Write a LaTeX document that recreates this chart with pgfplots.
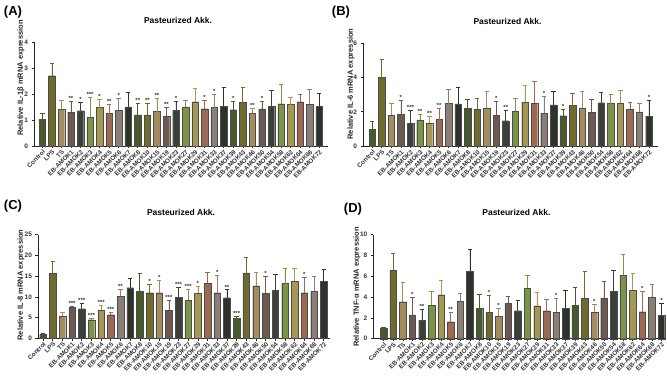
\documentclass[border=0pt]{standalone}
\usepackage{pgfplots}
\pgfplotsset{compat=1.18}
\usepackage{pgfplotstable}
\usepackage{fontspec}
\setmainfont{Liberation Sans}

\definecolor{c0}{HTML}{48592B}
\definecolor{c1}{HTML}{6E6B2C}
\definecolor{c2}{HTML}{A48C5E}
\definecolor{c3}{HTML}{6E5950}
\definecolor{c4}{HTML}{3C403B}
\definecolor{c5}{HTML}{7B9448}
\definecolor{c6}{HTML}{A69752}
\definecolor{c7}{HTML}{9C6A52}
\definecolor{c8}{HTML}{8B7E74}
\definecolor{c9}{HTML}{2F312D}

% x = position, y = mean, e = error (upper), s = number of stars
\pgfplotstableread{
x y e s
0 1.02 0.25 0
1 2.71 0.47 0
2 1.42 0.33 0
3 1.31 0.43 2
4 1.36 0.34 1
5 1.10 0.78 3
6 1.48 0.32 1
7 1.25 0.35 2
8 1.38 0.46 1
9 1.51 0.56 0
10 1.20 0.45 2
11 1.20 0.45 2
12 1.33 0.51 2
13 1.15 0.34 2
14 1.38 0.34 1
15 1.50 0.28 0
16 1.71 0.52 0
17 1.44 0.34 1
18 1.48 0.52 1
19 1.54 0.73 0
20 1.40 0.32 1
21 1.69 0.56 0
22 1.27 0.19 2
23 1.43 0.31 1
24 1.54 0.60 0
25 1.63 0.73 0
26 1.60 0.27 0
27 1.71 0.30 0
28 1.62 0.55 0
29 1.53 0.51 0
}\dataA

\pgfplotstableread{
x y e s
0 0.99 0.43 0
1 4.00 1.09 0
2 1.81 0.69 0
3 1.85 0.80 1
4 1.31 0.76 3
5 1.52 0.35 2
6 1.35 0.38 2
7 1.54 0.68 2
8 2.48 0.85 0
9 2.46 0.99 0
10 2.22 0.49 0
11 2.14 0.63 0
12 2.20 1.00 0
13 1.81 0.82 1
14 1.48 0.59 2
15 2.03 0.74 0
16 2.57 0.96 0
17 2.50 1.26 0
18 1.91 0.97 1
19 2.40 0.78 0
20 1.77 0.39 1
21 2.36 0.72 0
22 2.20 1.02 0
23 1.97 0.76 0
24 2.53 0.61 0
25 2.48 0.54 0
26 2.51 0.76 0
27 2.14 0.41 0
28 2.00 0.51 0
29 1.75 0.90 1
}\dataB

\pgfplotstableread{
x y e s
0 0.90 0.20 0
1 15.80 2.70 0
2 5.40 0.95 0
3 7.40 0.40 3
4 7.15 1.25 3
5 4.50 0.30 3
6 6.80 1.20 3
7 5.70 0.50 3
8 10.10 1.80 2
9 12.20 2.30 0
10 11.40 4.20 0
11 11.00 2.00 1
12 11.00 3.10 1
13 6.80 2.30 3
14 9.90 2.40 3
15 9.20 2.70 3
16 10.85 1.65 1
17 13.30 2.60 0
18 11.00 4.10 1
19 9.80 1.90 2
20 4.75 0.45 3
21 15.80 3.70 0
22 12.70 3.20 0
23 10.85 4.15 1
24 11.50 4.00 0
25 13.20 3.80 0
26 13.75 3.05 0
27 11.00 3.70 1
28 11.30 3.70 0
29 13.75 2.95 0
}\dataC

\pgfplotstableread{
x y e s
0 1.00 0.07 0
1 6.60 1.57 0
2 3.56 1.86 0
3 2.28 1.66 1
4 1.79 1.03 2
5 3.24 1.28 0
6 4.23 1.35 0
7 1.63 0.90 2
8 3.62 0.71 0
9 6.47 2.09 0
10 2.95 1.31 0
11 2.53 1.67 1
12 2.18 0.74 1
13 3.43 0.67 0
14 2.69 1.03 0
15 4.87 1.19 0
16 3.17 1.25 0
17 2.69 1.06 0
18 2.56 1.29 1
19 2.95 1.67 0
20 3.20 1.77 0
21 3.91 2.56 0
22 2.56 0.74 1
23 3.91 1.57 0
24 4.55 1.99 0
25 6.09 1.99 0
26 4.65 1.66 0
27 2.60 1.95 1
28 3.97 1.29 0
29 2.24 1.13 1
}\dataD

\pgfplotsset{
  panel/.style={
    scale only axis,
    anchor=south west,
    axis x line*=bottom, axis y line*=left,
    axis line style={line width=0.8pt, black!85},
    tick align=outside,
    major tick length=2.5pt,
    tick style={line width=0.6pt, black!85},
    xtick={0,...,29},
    xticklabels={Control,LPS,TS,EB-AMOK1,EB-AMOK2,EB-AMOK3,EB-AMOK4,EB-AMOK5,EB-AMOK6,EB-AMOK7,EB-AMOK8,EB-AMOK10,EB-AMOK15,EB-AMOK19,EB-AMOK23,EB-AMOK27,EB-AMOK29,EB-AMOK31,EB-AMOK33,EB-AMOK37,EB-AMOK39,EB-AMOK43,EB-AMOK46,EB-AMOK50,EB-AMOK54,EB-AMOK58,EB-AMOK62,EB-AMOK64,EB-AMOK68,EB-AMOK72},
    xticklabel style={rotate=45, anchor=north east, font=\fontsize{6.3}{6.3}\selectfont\bfseries, inner sep=0.5pt, text=black!80},
    yticklabel style={font=\fontsize{6.5}{6.5}\selectfont\bfseries, text=black!80},
    /pgf/number format/assume math mode=true,
    ymin=0,
    title={Pasteurized Akk.},
    title style={font=\fontsize{8.5}{8.5}\selectfont\bfseries, at={(0.49,1)}, anchor=center, yshift=16pt},
    clip=false,
  },
}

\newcommand{\bars}[1]{%
  \pgfplotsinvokeforeach{0,...,9}{%
    \addplot[ybar, bar shift=0pt, bar width=0.68, fill=c##1, draw=black!70, line width=0.3pt,
      restrict expr to domain={mod(\thisrow{x},10)}{##1:##1},
      error bars/.cd, y dir=plus, y explicit,
      error bar style={c##1, line width=0.7pt},
      error mark options={rotate=90, mark size=2.2pt, c##1, line width=0.7pt}]
      table[x=x, y=y, y error=e] {#1};
  }%
}
\newcommand{\stars}[3]{%
  \addplot[draw=none, restrict expr to domain={\thisrow{s}}{#2:#2},
    nodes near coords={#3},
    nodes near coords style={font=\fontsize{6}{6}\selectfont\bfseries, text=black!80, anchor=south, inner sep=0.6pt}]
    table[x=x, y expr=\thisrow{y}+\thisrow{e}] {#1};
}

\begin{document}
\begin{tikzpicture}
\useasboundingbox (0,0) rectangle (667pt,378pt);

% (A)
\begin{axis}[panel, at={(34pt,232pt)}, width=294pt, height=103.7pt,
  xmin=-0.87, xmax=29.92, ymax=4, ytick={0,1,2,3,4}]
  \bars{\dataA}
  \stars{\dataA}{1}{*}
  \stars{\dataA}{2}{**}
  \stars{\dataA}{3}{***}
\end{axis}

% (B)
\begin{axis}[panel, at={(363pt,232pt)}, width=295pt, height=102.7pt,
  xmin=-0.97, xmax=29.95, ymax=6, ytick={0,2,4,6}]
  \bars{\dataB}
  \stars{\dataB}{1}{*}
  \stars{\dataB}{2}{**}
  \stars{\dataB}{3}{***}
\end{axis}

% (C)
\begin{axis}[panel, at={(38pt,39.7pt)}, width=292pt, height=103.6pt,
  xmin=-0.52, xmax=29.65, ymax=25, ytick={0,5,10,15,20,25}]
  \bars{\dataC}
  \stars{\dataC}{1}{*}
  \stars{\dataC}{2}{**}
  \stars{\dataC}{3}{***}
\end{axis}

% (D)
\begin{axis}[panel, at={(373.3pt,39.3pt)}, width=292pt, height=104pt,
  xmin=-1.08, xmax=29.4, ymax=10, ytick={0,2,4,6,8,10}]
  \bars{\dataD}
  \stars{\dataD}{1}{*}
  \stars{\dataD}{2}{**}
\end{axis}

\node[rotate=90, font=\fontsize{7.5}{7.5}\selectfont\bfseries, text=black!85] at (21pt,300pt) {Relative IL-1β mRNA expression};
\node[rotate=90, font=\fontsize{7.5}{7.5}\selectfont\bfseries, text=black!85] at (351pt,294pt) {Relative IL-6 mRNA expression};
\node[rotate=90, font=\fontsize{7.5}{7.5}\selectfont\bfseries, text=black!85] at (21pt,93pt) {Relative IL-8 mRNA expression};
\node[rotate=90, font=\fontsize{7.5}{7.5}\selectfont\bfseries, text=black!85] at (357pt,91pt) {Relative TNF-α mRNA expression};

\node[font=\fontsize{13}{13}\selectfont\bfseries] at (13pt,365.5pt) {(A)};
\node[font=\fontsize{13}{13}\selectfont\bfseries] at (341pt,366pt) {(B)};
\node[font=\fontsize{13}{13}\selectfont\bfseries] at (13pt,172pt) {(C)};
\node[font=\fontsize{13}{13}\selectfont\bfseries] at (353pt,169pt) {(D)};
\end{tikzpicture}
\end{document}
